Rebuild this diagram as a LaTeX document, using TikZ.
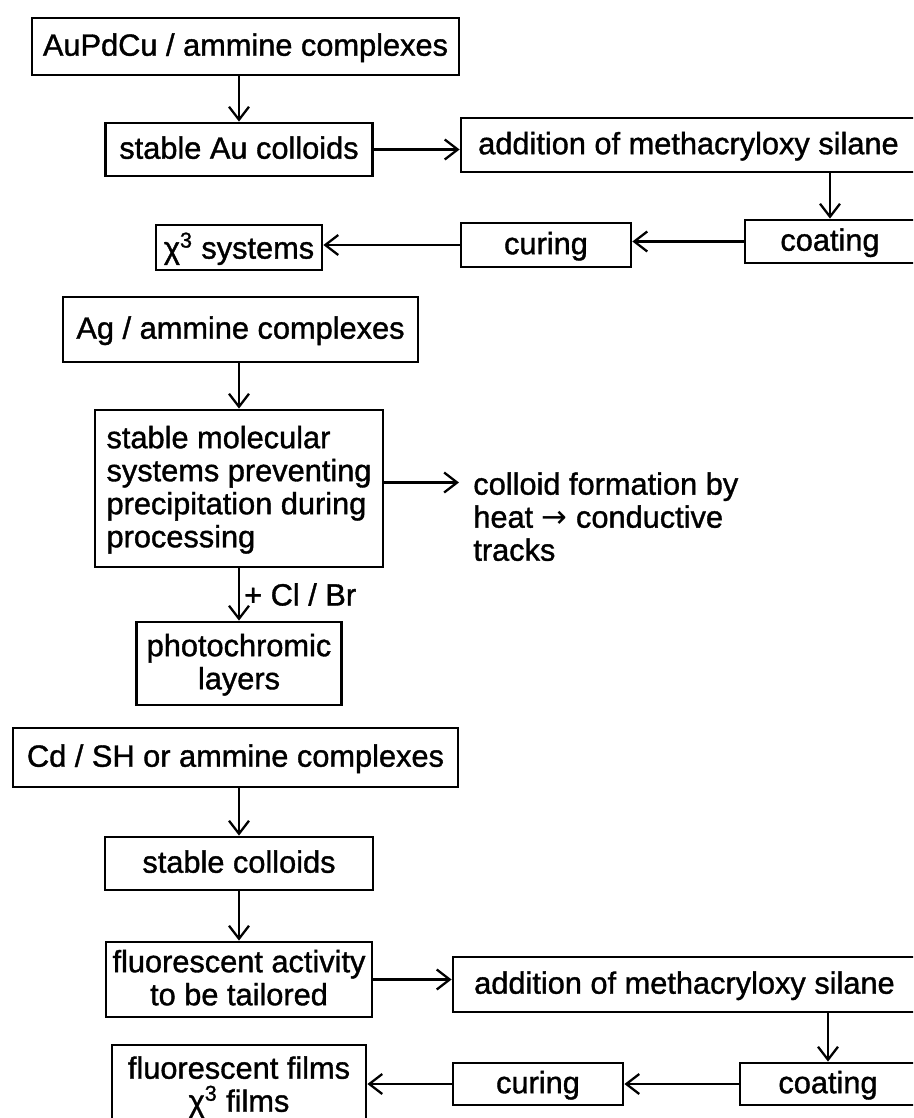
\documentclass[tikz,border=0pt]{standalone}
\usepackage{fontspec}
\setmainfont{Liberation Sans}[FakeBold=1.2]
\newfontfamily\arrowfont{DejaVu Sans}
\usetikzlibrary{positioning, arrows.meta, calc}

\begin{document}
\begin{tikzpicture}[
  font=\fontsize{17.5}{18.8}\selectfont,
  every node/.style={inner sep=1mm},
  box/.style={
    draw=black, line width=1.6pt, rectangle, align=center,
    text depth=0.22em,
  },
  arr/.style={-{Straight Barb[length=2.6mm,width=4mm,line width=1.3pt]},
              line width=1.4pt},
]

% ── Page frame (right-hand boxes run off the edge) ─────────────────
\clip (0,0) rectangle (182.6mm,-223.6mm);
\fill[white] (0,0) rectangle (182.6mm,-223.6mm);

% ── Column x-positions ─────────────────────────────────────────────
\def\cL{47.8mm}
\def\cAdd{137.7mm}
\def\cCoat{166mm}

% ── AuPdCu branch ──────────────────────────────────────────────────
\node[box, minimum width=85.4mm, minimum height=11.4mm] (srcAu) at (49.1mm,-9.3mm) {AuPdCu / ammine complexes};
\node[box, minimum width=53.4mm, minimum height=10.6mm] (colAu) at (\cL,-29.9mm) {stable Au colloids};
\node[box, minimum width=91mm, minimum height=10.8mm] (addAu) at (\cAdd,-29mm) {addition of methacryloxy silane};
\node[box, minimum width=34mm, minimum height=8.6mm] (coatAu) at (\cCoat,-48.3mm) {coating};
\node[box, minimum width=34mm, minimum height=8.8mm] (curAu) at (109.2mm,-49mm) {curing};
\node[box, minimum width=33.2mm, minimum height=9mm] (chiAu) at (\cL,-49.5mm) {χ\textsuperscript{3} systems};

\draw[arr] (srcAu.south -| colAu.north) -- (colAu.north);
\draw[arr] (colAu.east) -- (colAu.east -| addAu.west);
\draw[arr] (addAu.south -| coatAu.north) -- (coatAu.north);
\draw[arr] (coatAu.west) -- (coatAu.west -| curAu.east);
\draw[arr] (curAu.west) -- (curAu.west -| chiAu.east);

% ── Ag branch ──────────────────────────────────────────────────────
\node[box, minimum width=71mm, minimum height=13mm] (srcAg) at (48.1mm,-65.9mm) {Ag / ammine complexes};
\node[box, minimum width=57.6mm, minimum height=31.4mm, align=left] (molAg) at (\cL,-97.7mm)
  {stable molecular\\systems preventing\\precipitation during\\processing};
\node[inner sep=0pt, align=left, anchor=north west] (heatAg) at (94.6mm,-94.4mm)
  {colloid formation by\\heat {\arrowfont →} conductive\\tracks};
\node[box, minimum width=41mm, minimum height=16.6mm] (photoAg) at (\cL,-132.7mm) {photochromic\\layers};

\draw[arr] (srcAg.south -| molAg.north) -- (molAg.north);
\draw[arr] ($(molAg.east)+(0,1.2mm)$) -- ($(molAg.east -| heatAg.west)+(-2.8mm,1.2mm)$);
\draw[arr] (molAg.south -| photoAg.north) -- node[right, inner sep=0.8mm] (halAg) {+ Cl / Br} (photoAg.north);

% ── Cd branch ──────────────────────────────────────────────────────
\node[box, minimum width=89mm, minimum height=11.8mm] (srcCd) at (47.1mm,-151.5mm) {Cd / SH or ammine complexes};
\node[box, minimum width=53.6mm, minimum height=10.6mm] (colCd) at (\cL,-172.7mm) {stable colloids};
\node[box, minimum width=53.2mm, minimum height=15mm] (fluCd) at (\cL,-195.9mm) {fluorescent activity\\to be tailored};
\node[box, minimum width=92.6mm, minimum height=11mm] (addCd) at (136.9mm,-196.9mm) {addition of methacryloxy silane};
\node[box, minimum width=35.2mm, minimum height=8.4mm] (coatCd) at (165.6mm,-216.8mm) {coating};
\node[box, minimum width=34mm, minimum height=8.4mm] (curCd) at (107.6mm,-216.8mm) {curing};
\node[box, minimum width=50.8mm, minimum height=16.4mm] (filmCd) at (\cL,-217.2mm) {fluorescent films\\χ\textsuperscript{3} films};

\draw[arr] (srcCd.south -| colCd.north) -- (colCd.north);
\draw[arr] (colCd.south) -- (fluCd.north);
\draw[arr] (fluCd.east) -- (fluCd.east -| addCd.west);
\draw[arr] (addCd.south -| coatCd.north) -- (coatCd.north);
\draw[arr] (coatCd.west) -- (coatCd.west -| curCd.east);
\draw[arr] (curCd.west) -- (curCd.west -| filmCd.east);

\end{tikzpicture}
\end{document}
